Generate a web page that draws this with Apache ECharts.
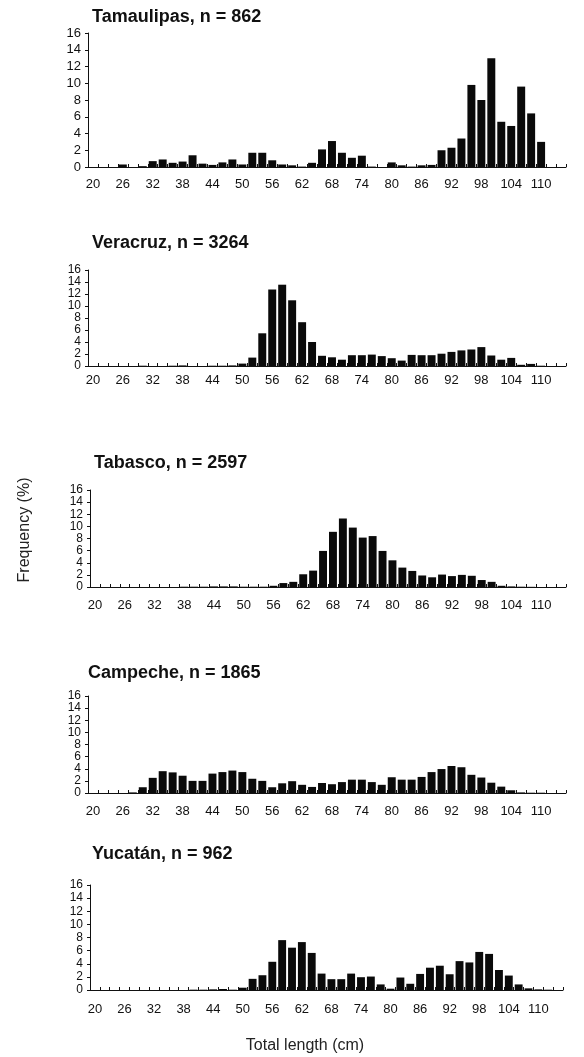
<!DOCTYPE html>
<html>
<head>
<meta charset="utf-8">
<script src="https://cdn.jsdelivr.net/npm/echarts@6/dist/echarts.min.js"></script>
<style>
html,body{margin:0;padding:0;background:#fff;}
#chart{width:584px;height:1057px;}
</style>
</head>
<body>
<div id="chart"></div>
<script>
const categories = ['20','22','24','26','28','30','32','34','36','38','40','42','44','46','48','50','52','54','56','58','60','62','64','66','68','70','72','74','76','78','80','82','84','86','88','90','92','94','96','98','100','102','104','106','108','110','112','114'];

const panelTitles = ['Tamaulipas, n = 862','Veracruz, n = 3264','Tabasco, n = 2597','Campeche, n = 1865','Yucatán, n = 962'];

const tamaulipas = [0,0,0,0.3,0,0.1,0.7,0.9,0.5,0.65,1.4,0.4,0.25,0.55,0.9,0.3,1.7,1.7,0.8,0.3,0.2,0.05,0.5,2.1,3.1,1.7,1.1,1.35,0.05,0,0.55,0.2,0.05,0.2,0.25,2.0,2.3,3.4,9.8,8.0,13.0,5.4,4.9,9.6,6.4,3.0,0,0];
const veracruz = [0,0,0,0,0,0.05,0,0,0.05,0.1,0,0,0.05,0.05,0.1,0.4,1.4,5.45,12.75,13.55,10.95,7.3,4.0,1.7,1.45,1.05,1.8,1.8,1.9,1.65,1.3,0.9,1.85,1.8,1.8,2.05,2.35,2.6,2.75,3.15,1.75,1.05,1.35,0.2,0.35,0.05,0,0];
const tabasco = [0,0,0,0,0,0,0,0,0,0.05,0.05,0.05,0.1,0.1,0.1,0.05,0.05,0.05,0.2,0.65,0.85,2.1,2.7,5.95,9.1,11.3,9.8,8.15,8.4,5.95,4.4,3.2,2.65,1.9,1.6,2.05,1.8,2.0,1.85,1.15,0.85,0.2,0.1,0.05,0.03,0,0,0];
const campeche = [0,0,0,0,0.1,0.95,2.5,3.6,3.4,2.85,2.0,2.0,3.2,3.45,3.7,3.45,2.35,2.0,0.95,1.6,1.95,1.35,1.0,1.65,1.45,1.8,2.2,2.2,1.8,1.35,2.6,2.2,2.2,2.65,3.45,3.95,4.45,4.25,3.0,2.55,1.7,1.05,0.45,0.1,0.05,0.05,0,0];
const yucatan = [0,0,0,0,0,0,0,0,0,0,0.05,0.05,0.1,0.15,0.05,0.35,1.7,2.25,4.3,7.6,6.45,7.3,5.65,2.5,1.65,1.65,2.5,1.95,2.05,0.85,0.2,1.9,0.95,2.45,3.4,3.7,2.4,4.4,4.2,5.8,5.5,3.05,2.2,0.85,0.25,0.1,0.05,0];

const yTicks = [0,2,4,6,8,10,12,14,16];

const seriesData = [tamaulipas, veracruz, tabasco, campeche, yucatan];

const layout = [
  {tTop: 8,   tLeft: 92, top: 33,  bottom: 167, left: 88, right: 566, lm: 11, fs: 13},
  {tTop: 234, tLeft: 92, top: 270, bottom: 366, left: 88, right: 566, lm: 8,  fs: 12},
  {tTop: 454, tLeft: 94, top: 490, bottom: 587, left: 90, right: 566, lm: 12, fs: 12},
  {tTop: 664, tLeft: 88, top: 696, bottom: 793, left: 88, right: 566, lm: 12, fs: 12},
  {tTop: 845, tLeft: 92, top: 885, bottom: 990, left: 90, right: 563, lm: 13, fs: 12}
];

const W = 584, H = 1057;
const axisColor = '#111';
const font = '"Liberation Sans", Arial, sans-serif';

const option = {
  animation: false,
  backgroundColor: '#fff',
  title: layout.map((L, i) => ({
    text: panelTitles[i],
    left: L.tLeft, top: L.tTop, padding: 0,
    textStyle: {fontFamily: font, fontSize: 18, fontWeight: 'bold', color: '#111'}
  })),
  grid: layout.map(L => ({
    left: L.left, width: L.right - L.left, top: L.top, height: L.bottom - L.top, containLabel: false
  })),
  xAxis: layout.map((L, i) => ({
    type: 'category', gridIndex: i, data: categories, boundaryGap: true,
    axisLine: {lineStyle: {color: axisColor, width: 1}},
    axisTick: {show: true, inside: true, length: 3, interval: 0, alignWithLabel: false, lineStyle: {color: axisColor}},
    axisLabel: {interval: 2, color: '#111', fontFamily: font, fontSize: 13, margin: L.lm},
    splitLine: {show: false}
  })),
  yAxis: layout.map((L, i) => ({
    type: 'value', gridIndex: i, min: 0, max: 16, interval: 2,
    axisLine: {show: true, lineStyle: {color: axisColor, width: 1}},
    axisTick: {show: true, inside: false, length: 3, lineStyle: {color: axisColor}},
    axisLabel: {color: '#111', fontFamily: font, fontSize: L.fs, lineHeight: 10, margin: 7,
      showMinLabel: true, showMaxLabel: true, hideOverlap: false,
      formatter: v => (yTicks.indexOf(v) >= 0 ? String(v) : '')},
    splitLine: {show: false}
  })),
  series: seriesData.map((d, i) => ({
    type: 'bar', xAxisIndex: i, yAxisIndex: i, data: d,
    barCategoryGap: '20%',
    itemStyle: {color: '#0a0a0a'}
  })),
  graphic: [
    {type: 'text', x: 305, y: 1046, style: {text: 'Total length (cm)', font: '16px "Liberation Sans", Arial, sans-serif', fill: '#222', textAlign: 'center', textVerticalAlign: 'middle'}},
    {type: 'text', x: 25, y: 530, rotation: Math.PI / 2, style: {text: 'Frequency (%)', font: '16px "Liberation Sans", Arial, sans-serif', fill: '#222', textAlign: 'center', textVerticalAlign: 'middle'}}
  ]
};

const chart = echarts.init(document.getElementById('chart'), null, {renderer: 'canvas', width: W, height: H});
chart.setOption(option);
</script>
</body>
</html>
